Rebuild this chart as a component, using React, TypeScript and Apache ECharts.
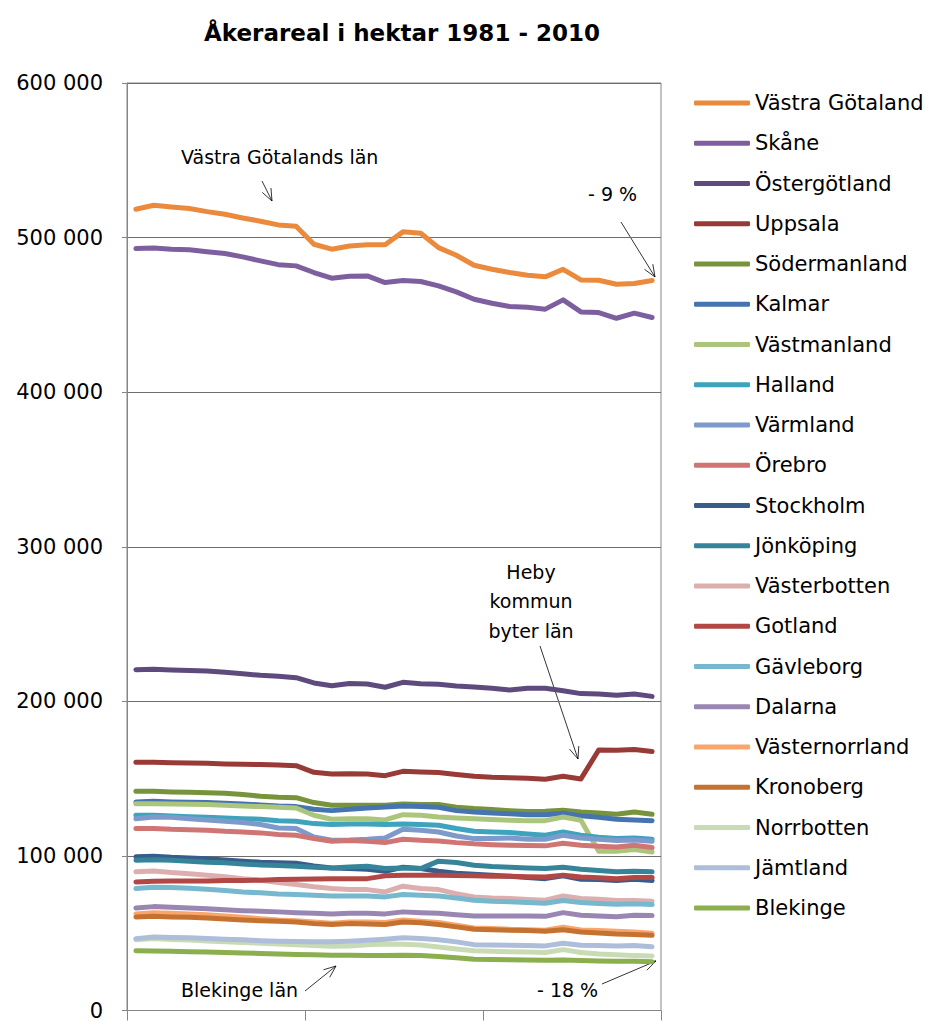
import React, { useEffect, useRef } from "react";
import * as echarts from "echarts";

const years = Array.from({ length: 30 }, (_, i) => String(1981 + i));

const names = [
  "Västra Götaland", "Skåne", "Östergötland", "Uppsala", "Södermanland", "Kalmar",
  "Västmanland", "Halland", "Värmland", "Örebro", "Stockholm", "Jönköping",
  "Västerbotten", "Gotland", "Gävleborg", "Dalarna", "Västernorrland", "Kronoberg",
  "Norrbotten", "Jämtland", "Blekinge",
];

const colors = [
  "#EB8A3C", "#7D5FA0", "#5F4A7E", "#983A36", "#77933C", "#4674B0",
  "#ABC67C", "#3EA3BC", "#7D9ACB", "#CF7675", "#385D8A", "#35849A",
  "#DCAFAE", "#B24845", "#76B8CE", "#9A86B3", "#F9A66E", "#C57230",
  "#C8DBB4", "#ADBDDA", "#8BAE4E",
];

// values in thousand hectares, 1981..2010
const vastraGotaland = [518.3, 520.9, 519.8, 518.8, 516.8, 515.1, 512.7, 510.6, 508.2, 507.3, 495.7, 492.5, 494.6, 495.3, 495.3, 503.7, 502.8, 493.5, 488.6, 482.1, 479.5, 477.4, 475.6, 474.6, 479.5, 472.6, 472.4, 469.8, 470.3, 472.2];
const skane = [492.9, 493.3, 492.5, 492.2, 490.9, 489.7, 487.5, 484.9, 482.5, 481.7, 477.4, 473.7, 475.0, 475.2, 470.9, 472.2, 471.6, 468.8, 464.9, 460.1, 457.5, 455.4, 455.0, 453.7, 459.7, 451.9, 451.5, 447.8, 451.1, 448.3];
const ostergotland = [220.5, 220.7, 220.3, 220.0, 219.6, 218.8, 217.9, 216.8, 216.2, 215.3, 211.9, 210.1, 211.6, 211.2, 209.1, 212.3, 211.4, 211.0, 209.9, 209.3, 208.4, 207.3, 208.4, 208.4, 206.9, 205.0, 204.7, 203.9, 204.7, 203.2];
const uppsala = [160.6, 160.6, 160.3, 160.1, 159.9, 159.5, 159.3, 159.1, 158.8, 158.4, 154.1, 153.0, 153.2, 153.0, 151.9, 154.7, 154.3, 153.9, 152.6, 151.5, 150.9, 150.6, 150.2, 149.6, 151.5, 149.8, 168.5, 168.3, 168.8, 167.5];
const sodermanland = [141.8, 141.8, 141.4, 141.2, 140.9, 140.5, 139.7, 138.6, 137.9, 137.7, 134.5, 132.8, 132.8, 132.8, 132.8, 133.6, 133.2, 133.2, 131.5, 130.6, 130.0, 129.3, 128.7, 128.9, 129.5, 128.4, 127.8, 126.9, 128.4, 126.9];
const kalmar = [134.9, 135.3, 134.9, 134.7, 134.5, 134.1, 133.6, 133.0, 132.3, 131.9, 130.2, 129.3, 130.2, 131.0, 131.7, 132.3, 131.9, 131.5, 129.3, 128.4, 127.8, 127.2, 126.7, 126.7, 127.6, 125.9, 125.0, 123.7, 123.3, 122.8];
const vastmanland = [133.8, 133.8, 133.6, 133.4, 133.2, 132.8, 132.3, 131.9, 131.5, 131.0, 126.3, 123.7, 124.1, 124.1, 123.3, 126.7, 126.3, 125.2, 124.6, 124.1, 123.5, 123.1, 122.8, 122.8, 125.2, 123.1, 103.0, 103.0, 104.1, 102.6];
const halland = [126.3, 126.3, 125.9, 125.4, 125.0, 124.6, 124.1, 123.7, 122.8, 122.4, 120.9, 120.3, 120.7, 120.7, 120.3, 120.7, 120.3, 119.8, 117.7, 115.9, 115.5, 115.1, 114.2, 113.4, 115.5, 113.4, 112.1, 111.2, 111.6, 110.8];
const varmland = [124.1, 125.2, 125.0, 124.1, 123.3, 122.4, 121.6, 120.3, 118.1, 117.7, 112.3, 110.1, 110.3, 110.8, 111.6, 117.2, 116.6, 115.5, 112.9, 111.2, 111.2, 111.6, 110.8, 110.8, 113.4, 111.6, 110.8, 109.9, 110.3, 109.5];
const orebro = [117.7, 117.7, 117.2, 117.0, 116.6, 115.9, 115.5, 114.9, 113.8, 113.4, 111.2, 109.5, 109.9, 109.5, 108.6, 110.8, 110.1, 109.7, 108.6, 107.8, 107.3, 106.9, 106.7, 106.5, 108.2, 106.9, 106.3, 105.8, 106.9, 105.4];
const stockholm = [99.4, 99.8, 99.1, 98.7, 98.1, 97.4, 96.6, 95.9, 95.5, 95.3, 93.5, 92.2, 91.8, 91.4, 90.1, 92.7, 91.8, 90.1, 88.8, 88.1, 87.5, 86.9, 86.0, 85.3, 87.1, 84.9, 84.7, 84.1, 84.9, 84.1];
const jonkoping = [97.2, 97.6, 97.2, 96.6, 95.9, 95.5, 94.8, 94.2, 93.8, 93.3, 92.7, 92.2, 92.9, 93.3, 91.8, 92.2, 91.8, 96.6, 95.7, 94.0, 93.1, 92.7, 92.2, 91.8, 92.7, 91.4, 90.5, 89.7, 90.1, 89.7];
const vasterbotten = [89.7, 90.3, 89.2, 88.4, 87.5, 86.6, 85.3, 84.3, 82.8, 81.5, 80.0, 78.9, 78.2, 78.2, 76.7, 80.4, 78.9, 78.2, 75.6, 73.5, 72.8, 72.4, 71.8, 71.3, 74.1, 72.4, 72.0, 71.1, 71.1, 70.7];
const gotland = [83.2, 83.6, 83.8, 83.8, 83.8, 84.1, 84.1, 84.3, 84.7, 84.9, 85.1, 85.3, 85.3, 85.3, 87.1, 87.5, 87.5, 87.5, 87.3, 87.1, 86.9, 86.9, 86.6, 86.4, 87.5, 86.4, 85.8, 85.3, 86.0, 86.0];
const gavleborg = [78.9, 79.7, 79.5, 79.1, 78.4, 77.6, 76.7, 76.1, 75.4, 75.0, 74.6, 74.1, 74.1, 74.1, 73.5, 75.0, 74.6, 74.1, 72.8, 71.3, 70.7, 70.3, 69.8, 69.4, 71.1, 69.8, 69.2, 68.8, 69.0, 68.5];
const dalarna = [66.3, 67.2, 66.8, 66.3, 65.9, 65.2, 64.6, 64.2, 63.8, 63.3, 62.9, 62.5, 62.9, 62.9, 62.5, 63.8, 63.3, 62.9, 62.0, 61.2, 61.2, 61.2, 61.2, 60.9, 63.3, 61.6, 61.2, 60.7, 61.6, 61.4];
const vasternorrland = [62.5, 63.3, 62.9, 62.5, 62.0, 61.2, 60.3, 59.4, 58.6, 58.1, 57.3, 56.4, 57.3, 57.3, 56.9, 58.6, 57.7, 56.9, 55.2, 53.4, 53.0, 52.5, 52.3, 51.9, 53.8, 52.1, 51.7, 51.2, 50.8, 49.9];
const kronoberg = [60.5, 60.9, 60.5, 60.3, 59.9, 59.2, 58.6, 58.1, 57.7, 57.3, 56.2, 55.6, 56.2, 56.0, 55.6, 57.3, 56.7, 55.6, 54.1, 52.5, 52.3, 51.9, 51.7, 51.2, 52.3, 50.8, 50.2, 49.5, 49.1, 48.6];
const norrbotten = [45.8, 46.5, 46.0, 45.6, 45.0, 44.5, 44.0, 43.5, 43.0, 42.6, 42.0, 41.5, 41.8, 42.5, 43.0, 42.8, 42.3, 41.1, 39.8, 38.6, 38.3, 38.0, 37.8, 37.5, 39.4, 37.5, 36.5, 36.0, 35.5, 35.3];
const jamtland = [46.5, 47.6, 47.2, 47.0, 46.5, 46.1, 45.7, 45.2, 44.8, 44.6, 44.4, 44.4, 44.8, 45.4, 46.1, 47.0, 46.5, 45.7, 44.4, 42.6, 42.4, 42.2, 42.0, 41.8, 43.5, 42.2, 42.0, 41.8, 42.0, 41.3];
const blekinge = [38.6, 38.5, 38.3, 38.0, 37.8, 37.5, 37.2, 36.9, 36.6, 36.3, 36.0, 35.8, 35.7, 35.6, 35.6, 35.8, 35.5, 35.0, 34.2, 33.2, 33.0, 32.8, 32.6, 32.5, 32.7, 32.3, 32.1, 31.9, 31.8, 31.6];

const seriesValues = [
  vastraGotaland, skane, ostergotland, uppsala, sodermanland, kalmar,
  vastmanland, halland, varmland, orebro, stockholm, jonkoping,
  vasterbotten, gotland, gavleborg, dalarna, vasternorrland, kronoberg,
  norrbotten, jamtland, blekinge,
];

const yTicks = [0, 100000, 200000, 300000, 400000, 500000, 600000];

const FONT = "'DejaVu Sans', sans-serif";

function arrow(x1: number, y1: number, x2: number, y2: number) {
  const ang = Math.atan2(y2 - y1, x2 - x1);
  const L = 13;
  const a = (22 * Math.PI) / 180;
  const p1 = [x2 - L * Math.cos(ang - a), y2 - L * Math.sin(ang - a)];
  const p2 = [x2 - L * Math.cos(ang + a), y2 - L * Math.sin(ang + a)];
  return [
    { type: "line", shape: { x1, y1, x2, y2 }, style: { stroke: "#000", lineWidth: 0.8 }, silent: true },
    { type: "polyline", shape: { points: [p1, [x2, y2], p2] }, style: { stroke: "#000", lineWidth: 0.8, fill: null }, silent: true },
  ];
}

function label(text: string, x: number, y: number, align: string = "left") {
  return {
    type: "text",
    x,
    y,
    style: { text, fill: "#000", font: `19px ${FONT}`, align, verticalAlign: "middle" },
    silent: true,
  };
}

export default function App() {
  const ref = useRef<HTMLDivElement>(null);
  useEffect(() => {
    if (!ref.current) return;
    const chart = echarts.init(ref.current, null, { renderer: "svg" });
    const option: any = {
      animation: false,
      backgroundColor: "#fff",
      title: {
        text: "Åkerareal i hektar 1981 - 2010",
        left: 397,
        top: 16,
        textAlign: "center",
        textStyle: { fontFamily: FONT, fontSize: 23, fontWeight: "bold", color: "#000" },
      },
      color: colors,
      legend: {
        orient: "vertical",
        left: 694,
        top: 91,
        padding: 0,
        itemWidth: 56,
        itemHeight: 5,
        itemGap: 16.25,
        icon: "roundRect",
        textStyle: { fontFamily: FONT, fontSize: 21, lineHeight: 24, color: "#000" },
        data: names,
      },
      grid: {
        left: 127,
        top: 83,
        width: 534,
        height: 929,
        show: true,
        borderColor: "#868686",
        borderWidth: 1,
        containLabel: false,
      },
      xAxis: {
        type: "category",
        data: years,
        boundaryGap: true,
        axisLabel: { show: false },
        axisLine: { lineStyle: { color: "#868686", width: 1 } },
        axisTick: { show: true, interval: 9, length: 10, lineStyle: { color: "#868686" } },
        splitLine: { show: false },
      },
      yAxis: {
        type: "value",
        min: yTicks[0],
        max: yTicks[yTicks.length - 1],
        interval: 100000,
        axisLine: { show: true, lineStyle: { color: "#868686" } },
        axisTick: { show: true, length: 5, lineStyle: { color: "#868686" } },
        axisLabel: {
          margin: 24,
          fontFamily: FONT,
          fontSize: 21,
          lineHeight: 16,
          color: "#000",
          formatter: (v: number) => (v === 0 ? "0" : `${v / 1000} 000`),
        },
        splitLine: { show: true, lineStyle: { color: "#6e6e6e", width: 1 } },
      },
      series: names.map((n, i) => ({
        name: n,
        type: "line",
        data: seriesValues[i].map((v) => Math.round(v * 1000)),
        symbol: "none",
        lineStyle: { width: 5, cap: "round", join: "round", color: colors[i] },
        itemStyle: { color: colors[i] },
        emphasis: { disabled: true },
      })),
      graphic: [
        label("Västra Götalands län", 181, 157),
        ...arrow(262, 181, 272, 201),
        label("- 9 %", 588, 194),
        ...arrow(621, 222, 655, 277),
        label("Heby", 531, 572, "center"),
        label("kommun", 531, 601, "center"),
        label("byter län", 531, 631, "center"),
        ...arrow(540, 646, 578, 759),
        label("Blekinge län", 181, 990),
        ...arrow(305, 991, 336, 966),
        label("- 18 %", 537, 990),
        ...arrow(602, 984, 656, 961),
      ],
    };
    chart.setOption(option);
    return () => chart.dispose();
  }, []);
  return (
    <div
      ref={ref}
      style={{ position: "fixed", left: 0, top: 0, width: 931, height: 1021, background: "#fff" }}
    />
  );
}
